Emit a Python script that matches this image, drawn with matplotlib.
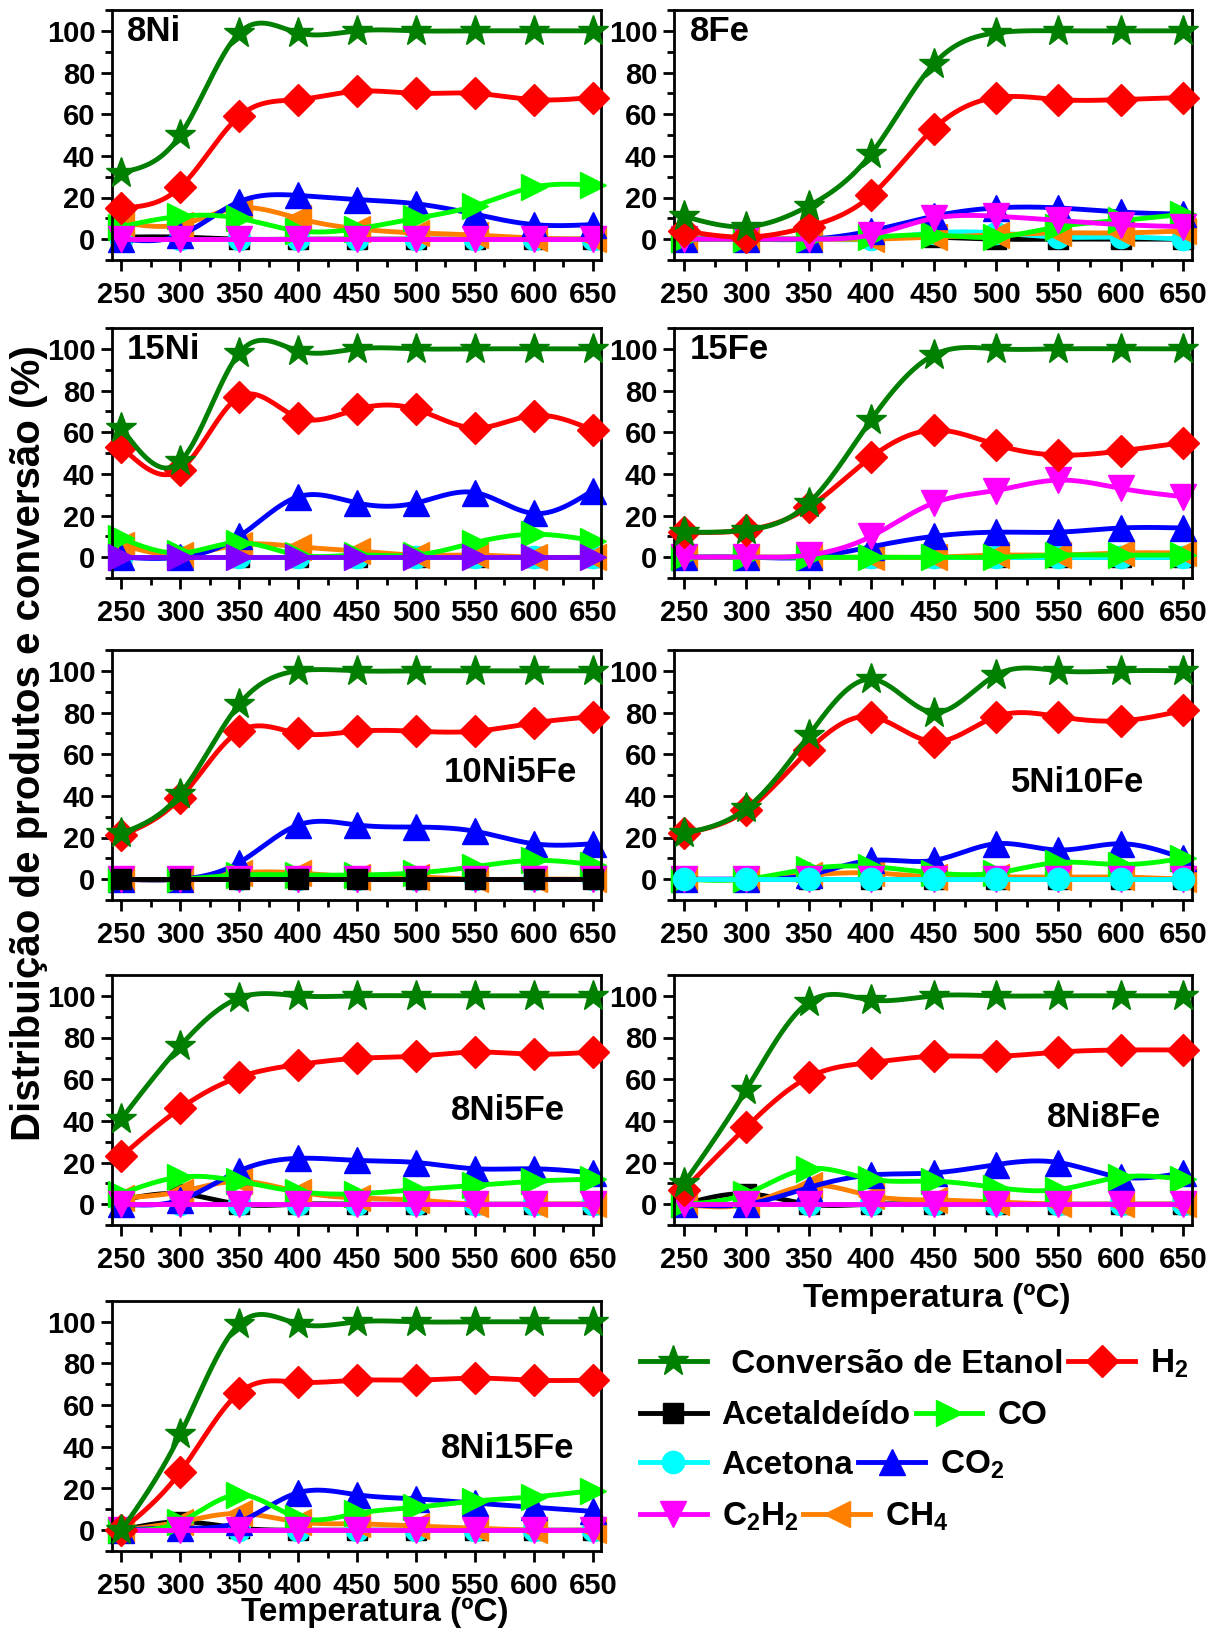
import numpy as np
import matplotlib
matplotlib.use("Agg")
import matplotlib.pyplot as plt
from matplotlib.lines import Line2D
from matplotlib.ticker import MultipleLocator

plt.rcParams['font.family'] = ['Liberation Sans', 'DejaVu Sans']
plt.rcParams['font.weight'] = 'bold'
plt.rcParams['mathtext.fontset'] = 'custom'
plt.rcParams['mathtext.rm'] = 'Liberation Sans:bold'
plt.rcParams['mathtext.bf'] = 'Liberation Sans:bold'
plt.rcParams['mathtext.default'] = 'bf'

# ---- data -----------------------------------------------------------------
temperatures = [250, 300, 350, 400, 450, 500, 550, 600, 650]

catalysts = ["8Ni", "8Fe", "15Ni", "15Fe", "10Ni5Fe", "5Ni10Fe", "8Ni5Fe", "8Ni8Fe", "8Ni15Fe"]

conversao = {
    "8Ni":     [32, 50, 99, 99, 100, 100, 100, 100, 100],
    "8Fe":     [11, 6, 16, 41, 84, 99, 100, 100, 100],
    "15Ni":    [62, 46, 98, 99, 100, 100, 100, 100, 100],
    "15Fe":    [12, 13, 26, 66, 97, 100, 100, 100, 100],
    "10Ni5Fe": [22, 41, 84, 100, 100, 100, 100, 100, 100],
    "5Ni10Fe": [22, 34, 69, 96, 80, 98, 100, 100, 100],
    "8Ni5Fe":  [41, 76, 99, 100, 100, 100, 100, 100, 100],
    "8Ni8Fe":  [10, 55, 97, 98, 100, 100, 100, 100, 100],
    "8Ni15Fe": [0, 46, 99, 99, 100, 100, 100, 100, 100],
}
h2 = {
    "8Ni":     [15, 25, 59, 67, 71, 70, 70, 67, 68],
    "8Fe":     [4, 1, 6, 21, 53, 68, 67, 67, 68],
    "15Ni":    [53, 42, 77, 67, 71, 71, 62, 68, 61],
    "15Fe":    [12, 13, 24, 48, 61, 54, 49, 51, 55],
    "10Ni5Fe": [21, 39, 71, 70, 71, 71, 71, 75, 78],
    "5Ni10Fe": [22, 33, 62, 78, 66, 78, 78, 76, 81],
    "8Ni5Fe":  [23, 46, 61, 67, 70, 71, 73, 72, 73],
    "8Ni8Fe":  [7, 37, 61, 68, 71, 71, 73, 74, 74],
    "8Ni15Fe": [0, 28, 66, 71, 72, 72, 73, 72, 72],
}
acetaldeido = {
    "8Ni":     [1, 1, 0, 0, 0, 0, 0, 0, 0],
    "8Fe":     [0, 0, 0, 1, 1, 0, 0, 0, 0],
    "15Ni":    [0, 0, 0, 0, 0, 0, 0, 0, 0],
    "15Fe":    [0, 0, 0, 0, 0, 0, 0, 0, 0],
    "10Ni5Fe": [0, 0, 0, 0, 0, 0, 0, 0, 0],
    "5Ni10Fe": [0, 0, 0, 0, 0, 0, 0, 0, 0],
    "8Ni5Fe":  [2, 5, 0, 0, 0, 0, 0, 0, 0],
    "8Ni8Fe":  [0, 5, 0, 0, 0, 0, 0, 0, 0],
    "8Ni15Fe": [0, 4, 1, 0, 0, 0, 0, 0, 0],
}
co = {
    "8Ni":     [6, 11, 10, 4, 5, 10, 16, 25, 26],
    "8Fe":     [0, 0, 0, 1, 2, 1, 6, 9, 12],
    "15Ni":    [9, 2, 7, 1, 1, 1, 7, 11, 8],
    "15Fe":    [0, 0, 0, 0, 0, 0, 1, 1, 1],
    "10Ni5Fe": [0, 0, 2, 2, 2, 3, 6, 9, 7],
    "5Ni10Fe": [0, 0, 5, 6, 3, 3, 8, 7, 10],
    "8Ni5Fe":  [5, 13, 11, 6, 5, 7, 9, 11, 12],
    "8Ni8Fe":  [0, 5, 17, 12, 11, 8, 7, 13, 12],
    "8Ni15Fe": [0, 4, 17, 6, 8, 11, 14, 16, 19],
}
acetona = {
    "8Ni":     [0, 0, 0, 0, 0, 0, 0, 0, 0],
    "8Fe":     [0, 0, 0, 0, 3, 3, 1, 1, 0],
    "15Ni":    [0, 0, 0, 0, 0, 0, 0, 0, 0],
    "15Fe":    [0, 0, 0, 0, 0, 0, 0, 0, 0],
    "10Ni5Fe": [0, 0, 0, 0, 0, 0, 0, 0, 0],
    "5Ni10Fe": [0, 0, 0, 0, 0, 0, 0, 0, 0],
    "8Ni5Fe":  [0, 0, 0, 0, 0, 0, 0, 0, 0],
    "8Ni8Fe":  [0, 0, 0, 0, 0, 0, 0, 0, 0],
    "8Ni15Fe": [0, 0, 0, 0, 0, 0, 0, 0, 0],
}
co2 = {
    "8Ni":     [0, 2, 18, 21, 19, 17, 12, 7, 7],
    "8Fe":     [0, 0, 0, 4, 11, 15, 15, 13, 12],
    "15Ni":    [0, 0, 10, 29, 26, 26, 31, 21, 32],
    "15Fe":    [0, 0, 0, 5, 10, 12, 12, 14, 14],
    "10Ni5Fe": [0, 0, 8, 26, 26, 25, 23, 17, 17],
    "5Ni10Fe": [0, 0, 2, 9, 9, 17, 14, 17, 10],
    "8Ni5Fe":  [0, 2, 16, 22, 21, 20, 17, 17, 15],
    "8Ni8Fe":  [0, 0, 8, 14, 15, 19, 20, 13, 15],
    "8Ni15Fe": [0, 1, 4, 18, 17, 15, 13, 11, 9],
}
c2h2 = {
    "8Ni":     [0, 0, 0, 0, 0, 0, 0, 0, 0],
    "8Fe":     [0, 0, 0, 2, 10, 11, 9, 7, 6],
    "15Ni":    [0, 0, 0, 0, 0, 0, 0, 0, 0],
    "15Fe":    [0, 0, 1, 10, 26, 32, 37, 33, 29],
    "10Ni5Fe": [0, 0, 0, 0, 0, 0, 0, 0, 0],
    "5Ni10Fe": [0, 0, 0, 0, 0, 0, 0, 0, 0],
    "8Ni5Fe":  [0, 0, 0, 0, 0, 0, 0, 0, 0],
    "8Ni8Fe":  [0, 0, 0, 0, 0, 0, 0, 0, 0],
    "8Ni15Fe": [0, 0, 0, 0, 0, 0, 0, 0, 0],
}
ch4 = {
    "8Ni":     [8, 7, 15, 10, 5, 3, 2, 0.5, 0],
    "8Fe":     [0, 0, 0, 0, 1, 2, 3, 3, 4],
    "15Ni":    [6, 1, 6, 5, 3, 1, 1, 0, 0],
    "15Fe":    [0, 0, 0, 0, 0, 1, 1, 2, 2],
    "10Ni5Fe": [0, 0, 3, 3, 1, 1, 0, 0, 0],
    "5Ni10Fe": [0, 0, 2, 3, 1, 1, 1, 1, 0],
    "8Ni5Fe":  [3, 6, 11, 6, 3, 2, 0, 0, 0],
    "8Ni8Fe":  [0, 0, 9, 4, 2, 1, 0, 0, 0],
    "8Ni15Fe": [0, 4, 8, 4, 3, 2, 1, 0, 0],
}

# ---- series styles ----------------------------------------------------------
# (label, data, colour, marker, marker size)
series = [
    ("Acetaldeído", acetaldeido, "#000000", "s", 15),
    ("Acetona", acetona, "#00FFFF", "o", 16),
    ("CH$_4$", ch4, "#FF8000", "<", 19),
    ("CO$_2$", co2, "#0000FF", "^", 19),
    ("CO", co, "#00FF00", ">", 19),
    ("C$_2$H$_2$", c2h2, "#FF00FF", "v", 19),
    ("H$_2$", h2, "#FF0000", "D", 16),
    (" Conversão de Etanol", conversao, "#007F00", "*", 23),
]

# series drawn above the others in particular panels
on_top = {"10Ni5Fe": "Acetaldeído", "5Ni10Fe": "Acetona", "15Ni": "C$_2$H$_2$"}


def natural_spline(x, y, n=300):
    """Natural cubic spline through (x, y), evaluated on a dense grid."""
    x = np.asarray(x, float)
    y = np.asarray(y, float)
    m = len(x)
    h = np.diff(x)
    A = np.zeros((m, m))
    b = np.zeros(m)
    A[0, 0] = A[-1, -1] = 1.0
    for i in range(1, m - 1):
        A[i, i - 1] = h[i - 1]
        A[i, i] = 2 * (h[i - 1] + h[i])
        A[i, i + 1] = h[i]
        b[i] = 3 * ((y[i + 1] - y[i]) / h[i] - (y[i] - y[i - 1]) / h[i - 1])
    c = np.linalg.solve(A, b)
    xs = np.linspace(x[0], x[-1], n)
    idx = np.clip(np.searchsorted(x, xs) - 1, 0, m - 2)
    dx = xs - x[idx]
    bb = (y[idx + 1] - y[idx]) / h[idx] - h[idx] * (2 * c[idx] + c[idx + 1]) / 3
    dd = (c[idx + 1] - c[idx]) / (3 * h[idx])
    ys = y[idx] + bb * dx + c[idx] * dx ** 2 + dd * dx ** 3
    return xs, ys


# ---- layout -----------------------------------------------------------------
W, H = 1225, 1632
fig = plt.figure(figsize=(W / 100, H / 100), dpi=100)

col_x = [(112, 601), (674, 1192)]
row_y = [(10, 260), (328, 578), (650, 900), (975, 1225), (1301, 1551)]

label_pos = {
    "8Ni": (0.03, 0.915, "left"),
    "8Fe": (0.03, 0.915, "left"),
    "15Ni": (0.03, 0.915, "left"),
    "15Fe": (0.03, 0.915, "left"),
    "10Ni5Fe": (0.815, 0.51, "center"),
    "5Ni10Fe": (0.78, 0.47, "center"),
    "8Ni5Fe": (0.81, 0.46, "center"),
    "8Ni8Fe": (0.83, 0.43, "center"),
    "8Ni15Fe": (0.81, 0.41, "center"),
}

for k, cat in enumerate(catalysts):
    r, c = divmod(k, 2)
    x0, x1 = col_x[c]
    y0, y1 = row_y[r]
    ax = fig.add_axes([x0 / W, 1 - y1 / H, (x1 - x0) / W, (y1 - y0) / H])
    for z, (label, data, color, marker, ms) in enumerate(series):
        if cat == "15Ni" and label.startswith("C$_2$"):
            color, marker = "#8000FF", ">"
        zo = 2 + z * 0.1
        if on_top.get(cat) == label:
            zo = 1.9 + 0.1 * len(series) - 0.15
        vals = data[cat]
        xs, ys = natural_spline(temperatures, vals)
        ax.plot(xs, ys, color=color, lw=3.5, solid_capstyle="round", zorder=zo)
        ax.plot(temperatures, vals, ls="none", marker=marker, ms=ms,
                color=color, mec=color, clip_on=False, zorder=zo)
    ax.set_xlim(242, 657)
    ax.set_ylim(-10, 110)
    ax.xaxis.set_major_locator(MultipleLocator(50))
    ax.xaxis.set_minor_locator(MultipleLocator(25))
    ax.yaxis.set_minor_locator(MultipleLocator(10))
    ax.set_yticks([0, 20, 40, 60, 80, 100])
    ax.tick_params(which="both", direction="out", width=2, top=False, right=False)
    ax.tick_params(which="major", length=8, labelsize=21, pad=4)
    ax.tick_params(axis="x", which="major", pad=7)
    ax.tick_params(which="minor", length=5)
    for lab in ax.get_xticklabels() + ax.get_yticklabels():
        lab.set_fontweight("bold")
    for sp in ax.spines.values():
        sp.set_linewidth(2)
    lx, ly, ha = label_pos[cat]
    ax.text(lx, ly, cat, transform=ax.transAxes, ha=ha, va="center",
            fontsize=25, fontweight="bold", zorder=10)

fig.text(29 / W, 1 - 743 / H, "Distribuição de produtos e conversão (%)",
         rotation=90, ha="center", va="center", fontsize=29, fontweight="bold")
fig.text(375 / W, 1 - 1613 / H, "Temperatura (ºC)", ha="center", va="center",
         fontsize=24, fontweight="bold")
fig.text(937 / W, 1 - 1299 / H, "Temperatura (ºC)", ha="center", va="center",
         fontsize=24, fontweight="bold")

# ---- legend, built row by row ------------------------------------------------
style = {lab: (col, mk, ms) for lab, _, col, mk, ms in series}
legend_rows = [
    (" Conversão de Etanol", "H$_2$"),
    ("Acetaldeído", "CO"),
    ("Acetona", "CO$_2$"),
    ("C$_2$H$_2$", "CH$_4$"),
]
row_centres = [1364, 1416, 1465, 1517]
for names, yc in zip(legend_rows, row_centres):
    handles = []
    for nm in names:
        col, mk, ms = style[nm]
        handles.append(Line2D([], [], color=col, lw=3.5, marker=mk, ms=ms, mec=col))
    fig.legend(handles, list(names), loc="center left",
               bbox_to_anchor=(640 / W, 1 - yc / H), ncol=2, frameon=False,
               handlelength=2.0, handletextpad=0.45,
               columnspacing=0.15, borderpad=0, borderaxespad=0,
               prop={"weight": "bold", "size": 24})

fig.savefig("out.png", dpi=100)
